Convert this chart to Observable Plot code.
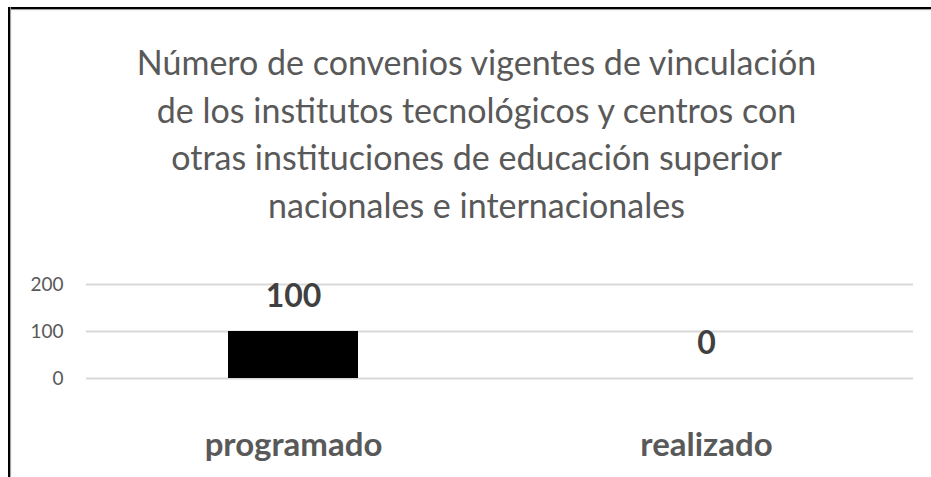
<!DOCTYPE html>
<html>
<head>
<meta charset="utf-8">
<script src="https://cdn.jsdelivr.net/npm/d3@7"></script>
<script src="https://cdn.jsdelivr.net/npm/@observablehq/plot@0.6"></script>
<style>
  html, body { margin: 0; padding: 0; background: #fff; }
  #wrap { position: relative; width: 931px; height: 477px; overflow: hidden; background: #fff; font-family: Lato, sans-serif; }
  #borderTop { position: absolute; left: 9px; top: 7px; right: 0; height: 2px; background: #000; box-shadow: 0 1px 1px #999; }
  #borderLeft { position: absolute; left: 8px; top: 7px; bottom: 0; width: 2px; background: #000; box-shadow: 1px 0 1px #999; }
  #title { position: absolute; left: 10px; right: 0; top: 38px; text-align: center; color: #595959; font-size: 34px; line-height: 47.5px; padding-left: 12px; }
  #chart { position: absolute; left: 0; top: 250px; }
</style>
</head>
<body>
<div id="wrap">
  <div id="borderTop"></div>
  <div id="borderLeft"></div>
  <div id="title"></div>
  <div id="chart"></div>
</div>
<script>
const titleLines = [
  "Número de convenios vigentes de vinculación",
  "de los institutos tecnológicos y centros con",
  "otras instituciones de educación superior",
  "nacionales e internacionales"
];
const categories = ["programado", "realizado"];
const values = [100, 0];
const yTicks = [0, 100, 200];

const titleEl = document.getElementById("title");
titleLines.forEach(t => { const d = document.createElement("div"); d.textContent = t; titleEl.appendChild(d); });

const data = categories.map((c, i) => ({category: c, value: values[i]}));

const plot = Plot.plot({
  width: 931,
  height: 227,
  marginLeft: 86,
  marginRight: 18,
  marginTop: 34,
  marginBottom: 99,
  style: { fontFamily: "Lato, sans-serif", background: "transparent", overflow: "visible" },
  x: { domain: categories, paddingInner: 0.686, paddingOuter: 0.343, label: null },
  y: { domain: [0, 200], label: null },
  marks: [
    Plot.gridY(yTicks, { stroke: "#d9d9d9", strokeOpacity: 1, strokeWidth: 2 }),
    Plot.axisY(yTicks, { tickSize: 0, tickPadding: 23, fontSize: 19, fill: "#595959", label: null }),
    Plot.axisX({ tickSize: 0, tickPadding: 54, fontSize: 33, fontWeight: "bold", fill: "#595959", label: null }),
    Plot.barY(data, { x: "category", y: "value", fill: "#000" }),
    Plot.text(data, { x: "category", y: "value", text: d => String(d.value), dy: -35, fontSize: 32, fontWeight: "bold", fill: "#404040" })
  ]
});
document.getElementById("chart").appendChild(plot);
</script>
</body>
</html>
